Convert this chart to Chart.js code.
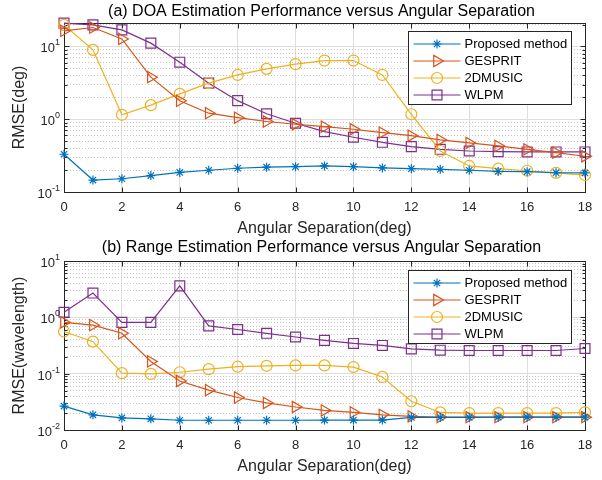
<!DOCTYPE html>
<html>
<head>
<meta charset="utf-8">
<title>RMSE versus Angular Separation</title>
<script src="https://cdn.jsdelivr.net/npm/chart.js@4.4.0/dist/chart.umd.min.js"></script>
<style>
    html, body { margin: 0; padding: 0; background: #fff; }
    .panel { position: relative; width: 602px; height: 240px; }
    canvas { display: block; }
</style>
</head>
<body>
<div class="panel"><canvas id="doaChart" width="602" height="240"></canvas></div>
<div class="panel"><canvas id="rangeChart" width="602" height="240"></canvas></div>
<script>
// Angular separation (deg)
const separation = [0, 1, 2, 3, 4, 5, 6, 7, 8, 9, 10, 11, 12, 13, 14, 15, 16, 17, 18];
const xTickValues = [0, 2, 4, 6, 8, 10, 12, 14, 16, 18];
const methodNames = ['Proposed method', 'GESPRIT', '2DMUSIC', 'WLPM'];

// (a) DOA RMSE (deg)
const doaProposed = [0.33, 0.146, 0.152, 0.168, 0.186, 0.199, 0.212, 0.219, 0.223, 0.228, 0.223, 0.214, 0.209, 0.205, 0.199, 0.192, 0.19, 0.184, 0.183];
const doaGesprit = [16.4, 18.2, 12.7, 3.78, 1.79, 1.21, 1.05, 0.93, 0.853, 0.79, 0.728, 0.655, 0.595, 0.519, 0.472, 0.43, 0.386, 0.347, 0.31];
const doaMusic = [19.8, 8.98, 1.15, 1.56, 2.23, 3.13, 4.06, 4.92, 5.71, 6.4, 6.4, 4.06, 1.17, 0.366, 0.228, 0.209, 0.196, 0.183, 0.171];
const doaWlpm = [20.9, 19.8, 16.9, 11.1, 6.08, 3.13, 1.8, 1.19, 0.88, 0.676, 0.565, 0.482, 0.42, 0.386, 0.366, 0.359, 0.355, 0.355, 0.355];

// (b) Range RMSE (wavelength)
const rangeProposed = [0.0266, 0.0186, 0.0164, 0.0158, 0.0149, 0.0149, 0.0149, 0.0149, 0.0149, 0.015, 0.015, 0.015, 0.0167, 0.0167, 0.0167, 0.0169, 0.0169, 0.0169, 0.0169];
const rangeGesprit = [0.813, 0.726, 0.521, 0.165, 0.0742, 0.051, 0.0377, 0.0302, 0.0256, 0.0223, 0.0205, 0.0186, 0.0174, 0.0169, 0.0169, 0.0169, 0.0169, 0.0169, 0.0169];
const rangeMusic = [0.56, 0.37, 0.102, 0.099, 0.106, 0.12, 0.133, 0.138, 0.14, 0.14, 0.131, 0.0875, 0.0324, 0.0205, 0.02, 0.02, 0.02, 0.02, 0.0206];
const rangeWlpm = [1.23, 2.7, 0.813, 0.813, 3.62, 0.706, 0.608, 0.521, 0.448, 0.39, 0.344, 0.317, 0.276, 0.261, 0.258, 0.258, 0.258, 0.258, 0.28];

// MATLAB default line colours and markers (*, >, o, s)
const COLORS = ['#0072BD', '#D95319', '#EDB120', '#7E2F8E'];
const MARKERS = [
    { pointStyle: 'star', radius: 4.5, rotation: 0 },
    { pointStyle: 'triangle', radius: 6.5, rotation: 90 },
    { pointStyle: 'circle', radius: 5.5, rotation: 0 },
    { pointStyle: 'rect', radius: 7, rotation: 0 }
];
const FONT = '"Liberation Sans", Arial, Helvetica, sans-serif';
const AXIS_COLOR = '#262626';

const isDecade = v => Math.abs(Math.log10(v) - Math.round(Math.log10(v))) < 1e-6;

function logTicks(min, max) {
    const out = [];
    for (let e = Math.floor(Math.log10(min)); e <= Math.ceil(Math.log10(max)); e++) {
        for (let m = 1; m <= 9; m++) {
            const v = m * Math.pow(10, e);
            if (v >= min * 0.999 && v <= max * 1.001) out.push(v);
        }
    }
    return out;
}

function drawMarker(ctx, style, color, x, y) {
    ctx.save();
    ctx.strokeStyle = color;
    ctx.fillStyle = 'rgba(0,0,0,0)';
    ctx.lineWidth = 1.2;
    if (Chart.helpers && Chart.helpers.drawPoint) {
        Chart.helpers.drawPoint(ctx, { ...style, borderWidth: 1.2 }, x, y);
    }
    ctx.restore();
}

const crisp = v => Math.round(v) + 0.5;

// box, inward ticks, titles, decade labels and legend in MATLAB look
const matlabAxes = {
    id: 'matlabAxes',
    beforeDatasetsDraw(chart, args, opts) {
        const { ctx, chartArea: a, scales: { x, y } } = chart;
        const L = crisp(a.left), R = crisp(a.right), T = crisp(a.top), B = crisp(a.bottom);
        ctx.save();
        ctx.strokeStyle = AXIS_COLOR;
        ctx.lineWidth = 1;
        ctx.beginPath();
        x.ticks.forEach(t => {
            const px = crisp(x.getPixelForValue(t.value));
            ctx.moveTo(px, B); ctx.lineTo(px, B - 5);
            ctx.moveTo(px, T); ctx.lineTo(px, T + 5);
        });
        y.ticks.forEach(t => {
            const py = crisp(y.getPixelForValue(t.value));
            const len = isDecade(t.value) ? 5 : 3;
            ctx.moveTo(L, py); ctx.lineTo(L + len, py);
            ctx.moveTo(R, py); ctx.lineTo(R - len, py);
        });
        ctx.stroke();
        ctx.strokeRect(L, T, R - L, B - T);
        ctx.restore();
    },
    afterDraw(chart, args, opts) {
        const { ctx, chartArea: a, scales: { y } } = chart;
        const cx = (a.left + a.right) / 2;
        ctx.save();
        ctx.fillStyle = '#000';
        ctx.textAlign = 'center';
        ctx.textBaseline = 'middle';
        ctx.font = `16px ${FONT}`;
        ctx.fillText(opts.title, cx - 3, opts.titleY);
        ctx.fillStyle = AXIS_COLOR;
        ctx.fillText(opts.xTitle, cx, opts.xTitleY);
        ctx.save();
        ctx.translate(20, (a.top + a.bottom) / 2);
        ctx.rotate(-Math.PI / 2);
        ctx.fillText(opts.yTitle, 0, 0);
        ctx.restore();

        // decade labels 10^n
        y.ticks.filter(t => isDecade(t.value)).forEach(t => {
            const py = y.getPixelForValue(t.value);
            const exp = String(Math.round(Math.log10(t.value)));
            ctx.textAlign = 'right';
            ctx.textBaseline = 'alphabetic';
            ctx.font = `9px ${FONT}`;
            const ew = ctx.measureText(exp).width;
            ctx.fillText(exp, a.left - 4, py - 1);
            ctx.font = `13px ${FONT}`;
            ctx.fillText('10', a.left - 4 - ew, py + 6);
        });

        // legend
        const lx = 408.5, lw = 163, top = opts.legendTop + 0.5, rowH = 17, lh = 73;
        ctx.fillStyle = '#fff';
        ctx.fillRect(lx, top, lw, lh);
        ctx.strokeStyle = AXIS_COLOR;
        ctx.lineWidth = 1;
        ctx.strokeRect(lx, top, lw, lh);
        chart.data.datasets.forEach((ds, i) => {
            const ry = top + 12.5 + i * rowH;
            ctx.strokeStyle = COLORS[i];
            ctx.lineWidth = 1.2;
            ctx.beginPath();
            ctx.moveTo(lx + 5, ry); ctx.lineTo(lx + 52, ry);
            ctx.stroke();
            drawMarker(ctx, MARKERS[i], COLORS[i], lx + 28.5, ry);
            ctx.fillStyle = '#000';
            ctx.font = `13px ${FONT}`;
            ctx.textAlign = 'left';
            ctx.textBaseline = 'middle';
            ctx.fillText(ds.label, lx + 56, ry + 0.5);
        });
        ctx.restore();
    }
};

function buildChart(canvasId, series, cfg) {
    const datasets = series.map((values, i) => ({
        label: methodNames[i],
        data: separation.map((s, k) => ({ x: s, y: values[k] })),
        borderColor: COLORS[i],
        backgroundColor: 'rgba(0,0,0,0)',
        borderWidth: 1.2,
        pointStyle: MARKERS[i].pointStyle,
        pointRotation: MARKERS[i].rotation,
        pointRadius: MARKERS[i].radius,
        pointBorderWidth: 1.2,
        pointBackgroundColor: 'rgba(0,0,0,0)',
        pointBorderColor: COLORS[i],
        tension: 0,
        clip: false
    }));

    return new Chart(document.getElementById(canvasId), {
        type: 'line',
        data: { datasets },
        options: {
            responsive: false,
            animation: false,
            devicePixelRatio: 1,
            layout: { padding: { top: cfg.top, right: 17, left: 0, bottom: 0 } },
            plugins: {
                legend: { display: false },
                tooltip: { enabled: false },
                matlabAxes: cfg
            },
            scales: {
                x: {
                    type: 'linear',
                    min: 0,
                    max: 18,
                    afterFit: s => { s.height = 240 - cfg.bottom; },
                    afterBuildTicks: s => { s.ticks = xTickValues.map(v => ({ value: v })); },
                    ticks: { color: AXIS_COLOR, font: { family: FONT, size: 13 }, padding: 8, maxRotation: 0 },
                    grid: { color: '#dedede', lineWidth: 1, drawTicks: false },
                    border: { display: false }
                },
                y: {
                    type: 'logarithmic',
                    min: cfg.yMin,
                    max: cfg.yMax,
                    afterFit: s => { s.width = 64; },
                    afterBuildTicks: s => { s.ticks = logTicks(cfg.yMin, cfg.yMax).map(v => ({ value: v })); },
                    ticks: { display: false, autoSkip: false },
                    grid: {
                        drawTicks: false,
                        lineWidth: 1,
                        color: c => (c.tick && !isDecade(c.tick.value)) ? '#c4c4c4' : '#dedede'
                    },
                    border: {
                        display: false,
                        dash: c => (c.tick && !isDecade(c.tick.value)) ? [1, 2] : []
                    }
                }
            }
        },
        plugins: [matlabAxes]
    });
}

buildChart('doaChart', [doaProposed, doaGesprit, doaMusic, doaWlpm], {
    title: '(a) DOA Estimation Performance versus Angular Separation',
    xTitle: 'Angular Separation(deg)',
    yTitle: 'RMSE(deg)',
    yMin: 0.1, yMax: 21,
    top: 23, bottom: 192,
    titleY: 12, xTitleY: 229, legendTop: 31
});

buildChart('rangeChart', [rangeProposed, rangeGesprit, rangeMusic, rangeWlpm], {
    title: '(b) Range Estimation Performance versus Angular Separation',
    xTitle: 'Angular Separation(deg)',
    yTitle: 'RMSE(wavelength)',
    yMin: 0.01, yMax: 10,
    top: 21, bottom: 190,
    titleY: 8, xTitleY: 227, legendTop: 30
});
</script>
</body>
</html>
